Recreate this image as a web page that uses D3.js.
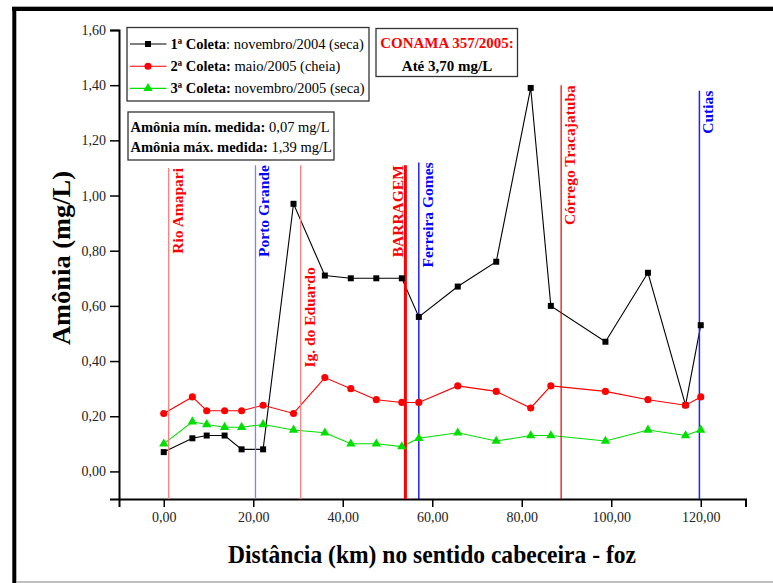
<!DOCTYPE html>
<html><head><meta charset="utf-8">
<script src="https://cdn.jsdelivr.net/npm/d3@7"></script>
<style>body{margin:0;background:#fff}svg{display:block}svg text{font-family:"Liberation Serif","Tinos","Times New Roman","DejaVu Serif",serif}</style>
</head><body><svg id="c" width="773" height="583"></svg>
<script>
// ---- data ----
const distances = [0, 6.4, 9.6, 13.6, 17.4, 22.2, 29.0, 36.0, 41.8, 47.5, 53.2, 57.0, 65.7, 74.3, 82.0, 86.5, 98.7, 108.2, 116.6, 120.0];
const coleta1 = [0.07,0.12,0.13,0.13,0.08,0.08,0.97,0.71,0.70,0.70,0.70,0.56,0.67,0.76,1.39,0.60,0.47,0.72,0.24,0.53];
const coleta2 = [0.21,0.27,0.22,0.22,0.22,0.24,0.21,0.34,0.30,0.26,0.25,0.25,0.31,0.29,0.23,0.31,0.29,0.26,0.24,0.27];
const coleta3 = [0.10,0.18,0.17,0.16,0.16,0.17,0.15,0.14,0.10,0.10,0.09,0.12,0.14,0.11,0.13,0.13,0.11,0.15,0.13,0.15];
const seriesBold = ["1ª Coleta", "2ª Coleta:", "3ª Coleta:"];
const seriesRest = [": novembro/2004 (seca)", " maio/2005 (cheia)", " novembro/2005 (seca)"];
const refNames = ["Rio Amapari", "Porto Grande", "Ig. do Eduardo", "BARRAGEM", "Ferreira Gomes", "Córrego Tracajatuba", "Cutias"];
const refKm = [1.1, 20.5, 30.6, 54.0, 57.0, 88.8, 119.7];
const refTop = [1.10, 1.11, 1.11, 1.11, 1.12, 1.40, 1.38];
const refLabelTop = [1.10, 1.11, 0.74, 1.11, 1.12, 1.40, 1.38];
const xTicks = [0, 20, 40, 60, 80, 100, 120];
const yTicks = [0, 0.2, 0.4, 0.6, 0.8, 1.0, 1.2, 1.4, 1.6];
const infoLines = [["Amônia mín. medida:", " 0,07 mg/L"], ["Amônia máx. medida:", " 1,39 mg/L"]];
const conamaLines = ["CONAMA 357/2005:", "Até 3,70 mg/L"];

// ---- styles ----
const FONT = '"Liberation Serif","Tinos","Times New Roman","DejaVu Serif",serif';
const seriesColors = ["#000000", "#ff0000", "#00e000"];
const seriesShapes = [d3.symbolSquare, d3.symbolCircle, d3.symbolTriangle];
const seriesSizes = [36, 40, 38];
const refColors = ["#ff8080", "#8080ff", "#ff8080", "#ff0000", "#0000ff", "#e00000", "#2020ff"];
const refTextColors = ["#ff0000", "#0000ff", "#ff0000", "#ff0000", "#0000ff", "#ff0000", "#0000ff"];
const refWidths = [1.3, 1.3, 1.3, 3, 1.3, 1.2, 1.5];
const refSide = [1, 1, 1, -1, 1, 1, 1];

const svg = d3.select("#c").style("font-family", FONT);
svg.append("rect").attr("width",773).attr("height",583).attr("fill","#fff");

// frame
svg.append("line").attr("x1",12).attr("x2",773).attr("y1",6.5).attr("y2",6.5).attr("stroke","#aaa").attr("stroke-width",1);
svg.append("line").attr("x1",12).attr("x2",773).attr("y1",9).attr("y2",9).attr("stroke","#000").attr("stroke-width",4);
svg.append("line").attr("x1",14.3).attr("x2",14.3).attr("y1",7).attr("y2",583).attr("stroke","#000").attr("stroke-width",4);
svg.append("line").attr("x1",16).attr("x2",773).attr("y1",582).attr("y2",582).attr("stroke","#aaa").attr("stroke-width",1.5);

const x = d3.scaleLinear().domain([-10,130]).range([119,745.5]);
const y = d3.scaleLinear().domain([-0.1,1.6]).range([499,30]);
const fmt = v => d3.format(".2f")(v).replace(".", ",");

// axes
const xAxis = d3.axisBottom(x).tickValues(xTicks).tickFormat(fmt).tickSize(8).tickPadding(5);
const xMinor = d3.axisBottom(x).tickValues(d3.range(-10,131,20)).tickFormat("").tickSize(5);
const gx = svg.append("g").attr("transform",`translate(0,${y(-0.1)})`);
gx.call(xMinor); gx.call(xAxis);
const yAxis = d3.axisLeft(y).tickValues(yTicks).tickFormat(fmt).tickSize(9).tickPadding(4);
const yMinor = d3.axisLeft(y).tickValues(d3.range(-0.1,1.55,0.2)).tickFormat("").tickSize(5);
const gy = svg.append("g").attr("transform",`translate(${x(-10)},0)`);
gy.call(yMinor); gy.call(yAxis);
[gx,gy].forEach(g=>{
  g.attr("font-family", FONT);
  g.selectAll(".domain").attr("stroke","#000").attr("stroke-width",2);
  g.selectAll(".tick line").attr("stroke","#000").attr("stroke-width",1.5);
  g.selectAll("text").attr("font-size",14).attr("fill","#222").style("font-family", FONT);
});

// data lines
const all = [coleta1, coleta2, coleta3];
const line = d3.line().x((d,i)=>x(distances[i])).y(d=>y(d));
all.forEach((s,k)=>{
  svg.append("path").datum(s).attr("d",line).attr("fill","none").attr("stroke",seriesColors[k]).attr("stroke-width",1.1);
});

// reference lines
refNames.forEach((n,i)=>{
  svg.append("line").attr("x1",x(refKm[i])).attr("x2",x(refKm[i])).attr("y1",y(refTop[i])).attr("y2",y(-0.1))
    .attr("stroke",refColors[i]).attr("stroke-width",refWidths[i]);
  const tx = x(refKm[i]) + (refSide[i]>0 ? 14 : -2);
  const ty = y(refLabelTop[i]);
  svg.append("text").attr("transform",`translate(${tx},${ty}) rotate(-90)`).attr("text-anchor","end")
    .attr("font-size",15.5).attr("font-weight","bold").attr("fill",refTextColors[i]).style("font-family", FONT).text(n);
});

// markers
all.forEach((s,k)=>{
  svg.append("g").selectAll("path").data(s).join("path")
    .attr("d",d3.symbol().type(seriesShapes[k]).size(seriesSizes[k]))
    .attr("transform",(d,i)=>`translate(${x(distances[i])},${y(d)})`)
    .attr("fill",seriesColors[k]);
});

// legend
const lg = svg.append("g");
lg.append("rect").attr("x",127).attr("y",27.5).attr("width",242).attr("height",73.5).attr("fill","#fff").attr("stroke","#333").attr("stroke-width",1.3);
seriesBold.forEach((b,k)=>{
  const cy = 44 + k*22.2;
  lg.append("line").attr("x1",130).attr("x2",166.5).attr("y1",cy).attr("y2",cy).attr("stroke",seriesColors[k]).attr("stroke-width",1.1);
  lg.append("path").attr("d",d3.symbol().type(seriesShapes[k]).size(seriesSizes[k])).attr("transform",`translate(148,${cy})`).attr("fill",seriesColors[k]);
  const t = lg.append("text").attr("x",170.5).attr("y",cy+5).attr("font-size",14.5).attr("fill","#000").style("font-family", FONT);
  t.append("tspan").attr("font-weight","bold").text(b);
  t.append("tspan").text(seriesRest[k]);
});

// info box
const ib = svg.append("g");
ib.append("rect").attr("x",128).attr("y",112).attr("width",206).attr("height",48).attr("fill","#fff").attr("stroke","#333").attr("stroke-width",1.3);
infoLines.forEach((l,k)=>{
  const t = ib.append("text").attr("x",130.5).attr("y",132+k*20).attr("font-size",14.5).attr("fill","#000").style("font-family", FONT);
  t.append("tspan").attr("font-weight","bold").text(l[0]);
  t.append("tspan").text(l[1]);
});

// CONAMA box
const cb = svg.append("g");
cb.append("rect").attr("x",376).attr("y",28.5).attr("width",141.5).attr("height",48).attr("fill","#fff").attr("stroke","#333").attr("stroke-width",1.3);
cb.append("text").attr("x",447).attr("y",48).attr("text-anchor","middle").attr("font-size",15).attr("font-weight","bold").attr("fill","#ff0000").style("font-family", FONT).text(conamaLines[0]);
cb.append("text").attr("x",447).attr("y",71).attr("text-anchor","middle").attr("font-size",15).attr("font-weight","bold").attr("fill","#000").style("font-family", FONT).text(conamaLines[1]);

// axis titles
svg.append("text").attr("x",432).attr("y",563).attr("text-anchor","middle").attr("font-size",25).attr("font-weight","bold").style("font-family", FONT)
  .attr("textLength",408).attr("lengthAdjust","spacingAndGlyphs").text("Distância (km) no sentido cabeceira - foz");
svg.append("text").attr("transform","translate(70,258) rotate(-90)").attr("text-anchor","middle").attr("font-size",25).attr("font-weight","bold").style("font-family", FONT)
  .attr("textLength",174).attr("lengthAdjust","spacingAndGlyphs").text("Amônia (mg/L)");
</script></body></html>
